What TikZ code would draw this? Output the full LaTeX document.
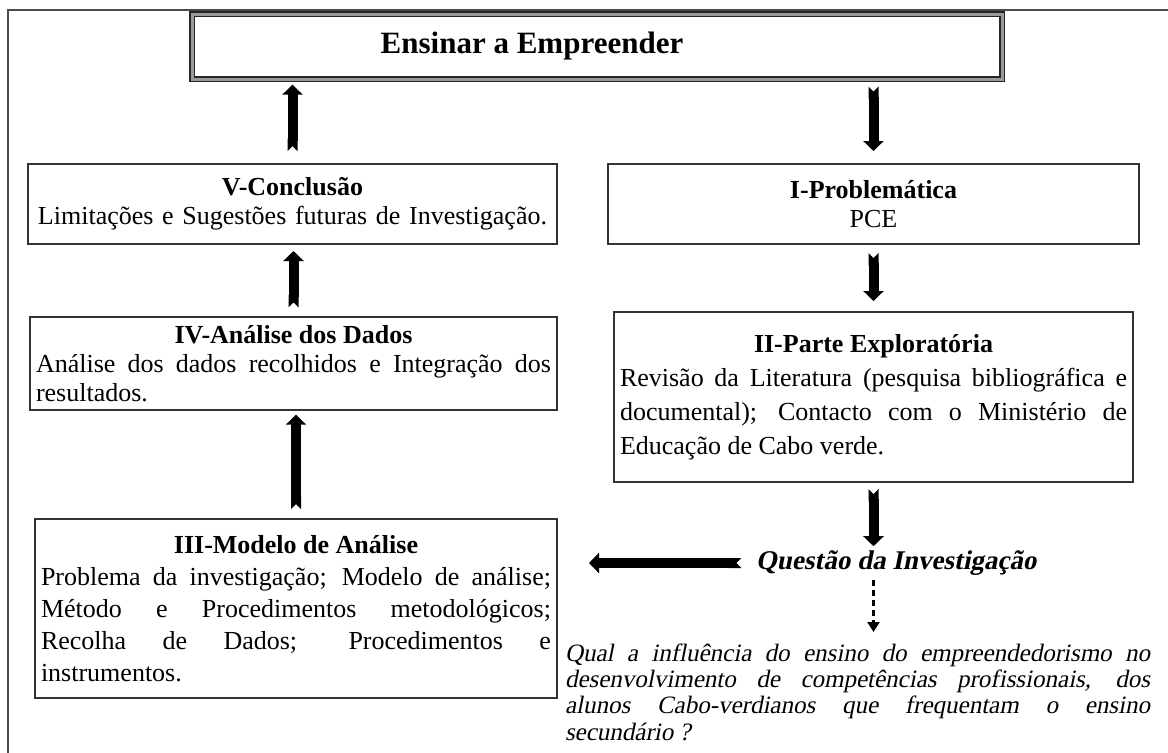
\documentclass[tikz,border=0pt]{standalone}
\usepackage{fontspec}
\setmainfont{Liberation Serif}[ItalicFont=Liberation Serif,ItalicFeatures={FakeSlant=0.2},
  BoldItalicFont=Liberation Serif Bold,BoldItalicFeatures={FakeSlant=0.2}]
\usetikzlibrary{arrows.meta}

\begin{document}
\begin{tikzpicture}[x=0.5pt,y=-0.5pt,
  stagebox/.style={draw=black!80,line width=1pt,inner xsep=3pt,inner ysep=4pt,font=\fontsize{13}{14.5}\selectfont},
  titlebox/.style={draw=black!85,line width=0.7pt,double=black!40,double distance=1.5pt,
    inner sep=0pt,font=\fontsize{15.5}{18}\selectfont\bfseries},
  blockarrow/.style={line width=5pt,{Triangle Cap[reversed]}-{Triangle[width=10pt,length=5pt]}},
  dotarrow/.style={line width=1.2pt,densely dashed,-{Triangle[width=6pt,length=5pt]}}]

  \clip (0,0) rectangle (1168,752);
  \draw[black!70,line width=0.8pt] (8,10) rectangle (1180,770);

  \node[titlebox,minimum width=405pt,minimum height=32.5pt] (title) at (597,46.5)
    {\hspace*{-65pt}Ensinar a Empreender};

  \node[stagebox,text width=258.5pt,minimum height=40pt,align=center] (concl) at (292.5,204)
    {\textbf{V-Conclusão}\\Limitações e Sugestões futuras de Investigação.};
  \node[stagebox,text width=259.5pt,minimum height=40pt,align=center] (probl) at (873.5,204)
    {\textbf{I-Problemática}\\PCE};
  \node[stagebox,text width=257.5pt,minimum height=42.5pt,align=justify] (dados) at (293.5,363.5)
    {{\centering\textbf{IV-Análise dos Dados}\par}Análise dos dados recolhidos e Integração dos\linebreak resultados.};
  \node[stagebox,text width=253.5pt,minimum height=85pt,align=justify,
    font=\fontsize{13}{17}\selectfont] (explo) at (873.5,397)
    {{\centering\textbf{II-Parte Exploratória}\par}Revisão da Literatura (pesquisa bibliográfica e\linebreak
     documental); Contacto com o Ministério de\linebreak Educação de Cabo verde.};
  \node[stagebox,text width=255pt,minimum height=89.5pt,align=justify,
    font=\fontsize{13}{16}\selectfont] (model) at (296,608.5)
    {{\centering\textbf{III-Modelo de Análise}\par}Problema da investigação; Modelo de análise;\linebreak
     Método e Procedimentos metodológicos;\linebreak Recolha de Dados; Procedimentos e\linebreak instrumentos.};

  \node[inner sep=2pt,font=\fontsize{13.5}{16}\selectfont\bfseries\itshape] (quest) at (896,563)
    {Questão da Investigação};
  \node[anchor=north,inner sep=0pt,text width=292.5pt,align=justify,
    font=\fontsize{12.5}{13.2}\selectfont\itshape] (quali) at (857.5,643)
    {Qual a influência do ensino do empreendedorismo no\linebreak desenvolvimento de competências profissionais, dos\linebreak
     alunos Cabo-verdianos que frequentam o ensino\linebreak secundário ?};

  \draw[blockarrow,shorten <=6pt,shorten >=2.5pt] (concl.north) -- (concl.north |- title.south);
  \draw[blockarrow,shorten <=3.5pt,shorten >=6pt] (probl.north |- title.south) -- (probl.north);
  \draw[blockarrow,shorten <=4.5pt,shorten >=3pt] (dados.north) -- (dados.north |- concl.south);
  \draw[blockarrow,shorten <=4pt,shorten >=5pt] (probl.south) -- (probl.south |- explo.north);
  \draw[blockarrow,shorten <=4.5pt,shorten >=2pt] (model.north) -- (model.north |- dados.south);
  \draw[blockarrow,shorten <=3pt,shorten >=0pt] (explo.south) -- (explo.south |- quest.north);
  \draw[blockarrow,shorten <=5pt,shorten >=15.5pt] (quest.west) -- (quest.west -| model.east);
  \draw[dotarrow,shorten >=5.5pt] (explo.south |- quest.south) -- (explo.south |- quali.north);
\end{tikzpicture}
\end{document}
